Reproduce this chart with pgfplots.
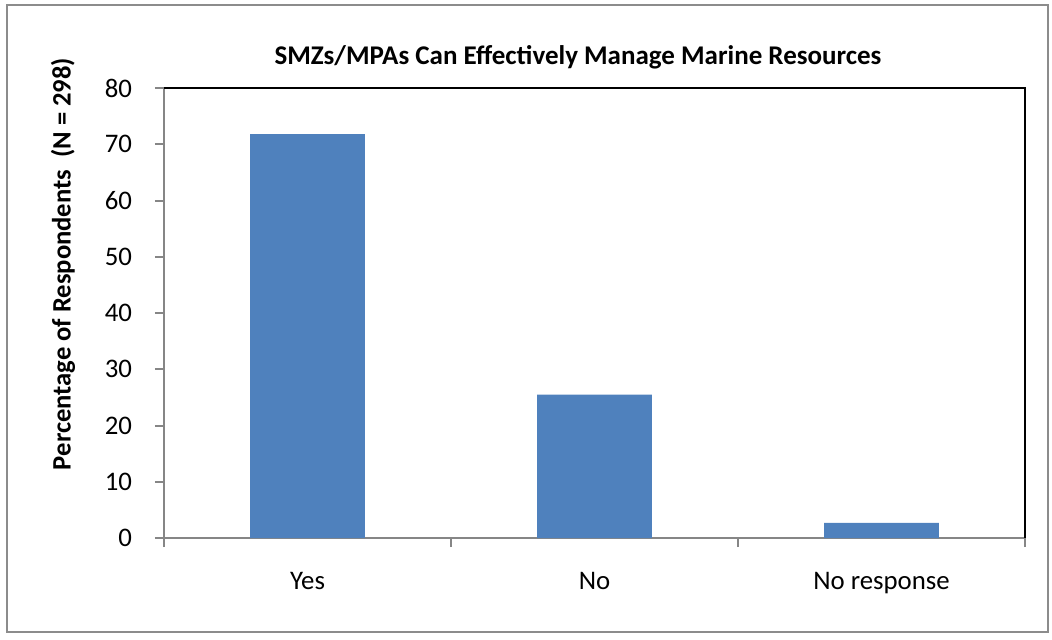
\documentclass[border=0pt]{standalone}
\usepackage{fontspec}
\setmainfont{Carlito}
\usepackage{pgfplots}
\pgfplotsset{compat=1.18}
\definecolor{barblue}{HTML}{4F81BD}
\definecolor{axgray}{HTML}{868686}
\definecolor{framegray}{HTML}{8C8C8C}

\begin{document}
\begin{tikzpicture}
\begin{axis}[
    at={(0,0)}, anchor=south west,
    scale only axis,
    width=430.5pt, height=225pt,
    xmin=-0.5, xmax=2.5,
    ymin=0, ymax=80,
    ytick={0,10,...,80},
    xtick={0,1,2},
    xticklabels={Yes,No,No response},
    minor xtick={-0.5,0.5,1.5,2.5},
    axis x line*=bottom, axis y line*=left,
    axis line style={axgray, line width=1.2pt, -},
    major tick length=4.5pt,
    minor tick length=4.5pt,
    x tick style={draw=none},
    minor x tick style={axgray, line width=1pt, draw=axgray},
    y tick style={axgray, line width=1pt},
    tick align=outside,
    tick label style={font=\fontsize{13.4}{15}\selectfont, black},
    yticklabel style={xshift=-8pt},
    xticklabel style={yshift=-9pt},
    /pgf/number format/assume math mode=true,
    ybar, bar width=0.4,
    clip=false,
]
\addplot[fill=barblue, draw=none] coordinates {(0,71.8) (1,25.5) (2,2.7)};
\draw[black, line width=1.3pt] (rel axis cs:0,1) -- (rel axis cs:1,1) -- (rel axis cs:1,0);
\end{axis}
% title and y label
\node[font=\fontsize{13.5}{15}\selectfont\bfseries, anchor=center] at (207pt,240.5pt)
  {SMZs/MPAs Can Effectively Manage Marine Resources};
\node[font=\fontsize{13.3}{15}\selectfont\bfseries, rotate=90, anchor=center] at (-50.5pt,137pt)
  {Percentage of Respondents\ \ (N = 298)};
% chart frame
\draw[framegray, line width=1pt] (-78.5pt,-47pt) rectangle (442pt,266.5pt);
\path (-82pt,-50.5pt) rectangle (444pt,269pt);
\end{tikzpicture}
\end{document}
